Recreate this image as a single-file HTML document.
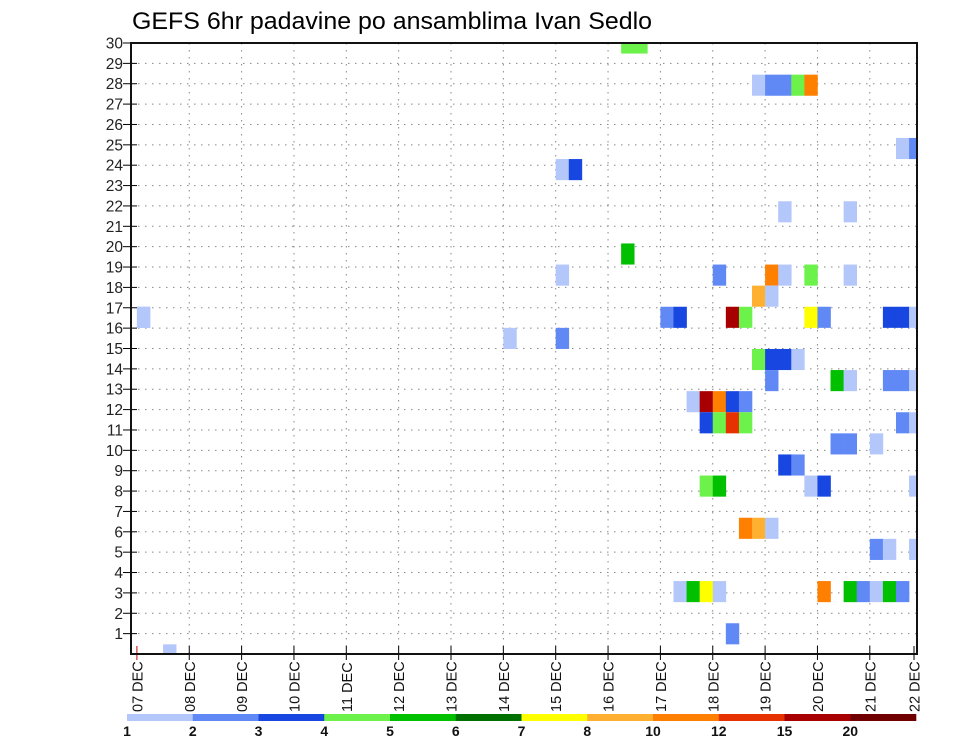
<!DOCTYPE html>
<html><head><meta charset="utf-8"><style>
html,body{margin:0;padding:0;background:#fff;}
svg{display:block;font-family:"Liberation Sans",sans-serif;}
</style></head><body>
<svg id="chart" width="960" height="742" viewBox="0 0 960 742" xmlns="http://www.w3.org/2000/svg">
<text x="132" y="29" font-size="24" textLength="520" lengthAdjust="spacingAndGlyphs" fill="#000">GEFS 6hr padavine po ansamblima Ivan Sedlo</text>
<g id="grid"></g>
<g id="cells"></g>
<g id="axes"></g>
<g id="cbar"></g>
</svg>
<script>
// ---- data ----
const dayLabels = ["07","08","09","10","11","12","13","14","15","16","17","18","19","20","21","22"];
const memberTicks = [1,2,3,4,5,6,7,8,9,10,11,12,13,14,15,16,17,18,19,20,21,22,23,24,25,26,27,28,29,30];
const levelLabels = ["1","2","3","4","5","6","7","8","10","12","15","20"];
const levelColors = ["#b4c7fb","#6089f6","#1747e0","#6cf24a","#00c000","#007000","#ffff00","#ffb030","#ff8000","#e63200","#a80000","#700000"];
// cells: ensemble member, 6-hour step index (from 07 DEC 00z), precip level class
const cellMember = [30,30, 28,28,28,28,28, 25,25, 24,24, 22,22, 20, 19,19,19,19,19,19, 18,18,
 17,17,17,17,17,17,17,17,17,17, 17, 16,16, 15,15,15,15, 14,14,14,14,14,14,
 13,13,13,13,13, 12,12,12,12,12,12, 11,11,11, 10,10, 9,9,9,9,9, 7,7,7, 6,6,6,
 4,4,4,4,4,4,4,4,4,4, 2, 1];
const cellStep = [37,38, 47,48,49,50,51, 58,59, 32,33, 49,54, 37, 32,44,48,49,51,54, 47,48,
 40,41,45,46,51,52,57,58,59,0, 0, 28,32, 47,48,49,50, 48,53,54,57,58,59,
 42,43,44,45,46, 43,44,45,46,58,59, 53,54,56, 49,50, 43,44,51,52,59, 46,47,48, 56,57,59,
 41,42,43,44,52,54,55,56,57,58, 45, 2];
const cellLevel = [3,3, 0,1,1,3,8, 0,1, 0,2, 0,0, 4, 0,1,8,0,3,0, 7,0,
 1,2,10,3,6,1,2,2,0,0, 0, 0,1, 3,2,2,0, 1,4,0,1,1,0,
 0,10,8,2,1, 2,3,9,3,1,0, 1,1,0, 2,1, 3,4,0,2,0, 8,7,0, 1,0,0,
 0,4,6,0,8,4,1,0,4,1, 1, 0];
</script>
<script>
const NS="http://www.w3.org/2000/svg";
const L=131,R=917,T=43,B=654;
const x0=136.9, dayW=52.35, stepW=dayW/4;
const xScale=s=>x0+s*stepW;
const yLabel=m=>T+(30-m)*((B-T)/30);
const cellH=21.1;
const yCell=m=>T+(30-m)*cellH;
function mk(tag,attrs,parent){const e=document.createElementNS(NS,tag);for(const k in attrs)e.setAttribute(k,attrs[k]);parent.appendChild(e);return e;}
const grid=document.getElementById('grid'),cells=document.getElementById('cells'),axes=document.getElementById('axes'),cbar=document.getElementById('cbar');
const defs=mk('defs',{},document.getElementById('chart'));
const cp=mk('clipPath',{id:'pc'},defs);mk('rect',{x:L,y:T,width:R-L,height:B-T},cp);
cells.setAttribute('clip-path','url(#pc)');
memberTicks.forEach(m=>{const y=yLabel(m);
 const g=mk('line',{x1:L,x2:R,y1:y,y2:y,stroke:'#888','stroke-width':1,'stroke-dasharray':'1.5,5.5'},grid);
 
 const t=mk('line',{x1:L-8,x2:L+6,y1:y,y2:y,stroke:'#000','stroke-width':1},axes);
 
 const lb=mk('text',{x:L-8,y:y+5.5,'font-size':15.5,'text-anchor':'end',fill:'#222'},axes);lb.textContent=m;
 
});
dayLabels.forEach((d,i)=>{let x=x0+i*dayW;if(x>R-3)x=R-3;
 if(i>0&&i<15){const g=mk('line',{x1:x,x2:x,y1:T,y2:B,stroke:'#888','stroke-width':1,'stroke-dasharray':'1.5,5.5'},grid);
 }
 const t=mk('line',{x1:x,x2:x,y1:B-8,y2:B+6,stroke:i==0?'#c00':'#000','stroke-width':1},axes);
 
 const lb=mk('text',{x:0,y:0,'font-size':14.5,fill:'#111',transform:`translate(${x+5.5},712) rotate(-90)`},axes);
 lb.textContent=d+'  DEC';
 
});
for(let i=0;i<cellMember.length;i++){
 const r=mk('rect',{x:xScale(cellStep[i]),y:yCell(cellMember[i])-cellH/2,width:stepW+0.3,height:cellH,fill:levelColors[cellLevel[i]]},cells);
 
 
}
const fr=mk('rect',{x:L,y:T,width:R-L,height:B-T,fill:'none',stroke:'#111','stroke-width':2},axes);

const cx0=127,cx1=916,segW=(cx1-cx0)/levelColors.length;
levelColors.forEach((c,i)=>{const r=mk('rect',{x:cx0+i*segW,y:714,width:segW+0.3,height:7,fill:c},cbar);
 });
levelLabels.forEach((l,i)=>{const t=mk('text',{x:cx0+i*segW,y:736,'font-size':14,'font-weight':'bold','text-anchor':'middle',fill:'#111'},cbar);
 t.textContent=l;});
</script>
</body></html>
